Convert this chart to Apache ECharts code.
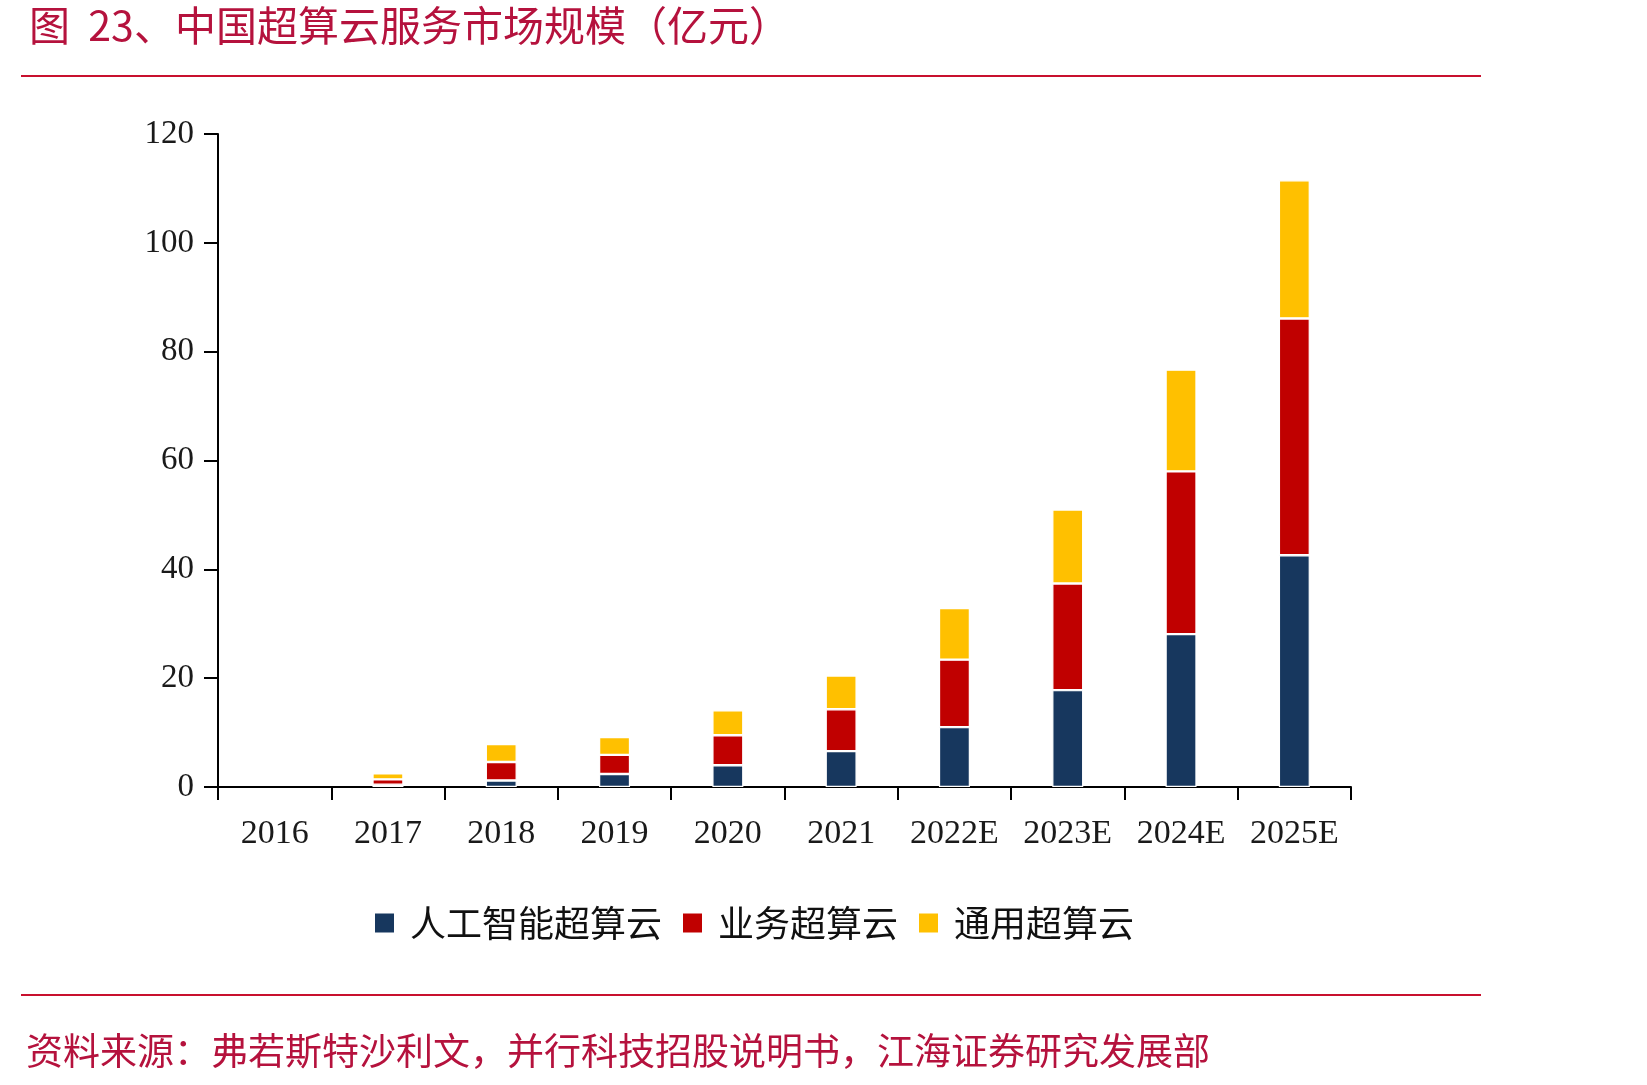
<!DOCTYPE html>
<html>
<head>
<meta charset="utf-8">
<script src="https://cdn.jsdelivr.net/npm/echarts@6/dist/echarts.min.js"></script>
<style>
html, body { margin: 0; padding: 0; background: #fff; }
#main { width: 1647px; height: 1085px; }
</style>
</head>
<body>
<div id="main"></div>
<script>
var years = ['2016', '2017', '2018', '2019', '2020', '2021', '2022E', '2023E', '2024E', '2025E'];
// 人工智能超算云
var aiCloud = [0, 0.4, 1.2, 2.4, 4.0, 6.6, 11.0, 17.8, 28.1, 42.6];
// 业务超算云
var bizCloud = [0, 1.0, 3.4, 3.5, 5.5, 7.7, 12.4, 19.6, 29.9, 43.5];
// 通用超算云
var genCloud = [0, 1.1, 3.3, 3.3, 4.6, 6.2, 9.5, 13.6, 18.7, 25.4];
var seriesNames = ['人工智能超算云', '业务超算云', '通用超算云'];
var seriesColors = ['#17375E', '#C00000', '#FFC000'];

var cjk = "'Noto Sans CJK SC', sans-serif";
var serif = "'Liberation Serif', 'DejaVu Serif', serif";
var redText = '#B5123D';
var redLine = '#C8102E';

var chart = echarts.init(document.getElementById('main'));

function makeSeries(i, data) {
    return {
        name: seriesNames[i],
        type: 'bar',
        stack: 'total',
        barWidth: 31,
        // 0 值不画（避免白色边框残影）
        data: data.map(function (v) { return v === 0 ? '-' : v; }),
        itemStyle: {
            color: seriesColors[i],
            borderColor: '#fff',
            borderWidth: 1.2
        }
    };
}

chart.setOption({
    animation: false,
    backgroundColor: '#fff',
    title: {
        text: '图  23、中国超算云服务市场规模（亿元）',
        left: 24,
        top: 0,
        textStyle: {
            color: redText,
            fontFamily: cjk,
            fontWeight: 'normal',
            fontSize: 41
        }
    },
    graphic: [
        {
            type: 'line',
            shape: { x1: 21, y1: 76, x2: 1481, y2: 76 },
            style: { stroke: redLine, lineWidth: 2 }
        },
        {
            type: 'line',
            shape: { x1: 21, y1: 995, x2: 1481, y2: 995 },
            style: { stroke: redLine, lineWidth: 2 }
        },
        {
            type: 'text',
            left: 26,
            top: 1032,
            style: {
                text: '资料来源：弗若斯特沙利文，并行科技招股说明书，江海证券研究发展部',
                fill: redText,
                font: '37px ' + cjk
            }
        }
    ],
    legend: {
        left: 368,
        top: 900,
        itemWidth: 21,
        itemHeight: 21,
        itemGap: 19,
        icon: 'rect',
        data: seriesNames,
        textStyle: {
            color: '#111',
            fontFamily: cjk,
            fontSize: 36,
            padding: [0, 0, 0, 10]
        }
    },
    grid: {
        left: 218,
        right: 296,
        top: 134,
        bottom: 298
    },
    xAxis: {
        type: 'category',
        data: years,
        boundaryGap: true,
        axisLine: { lineStyle: { color: '#000', width: 2 } },
        axisTick: { show: true, interval: 0, length: 13, lineStyle: { color: '#000', width: 2 } },
        axisLabel: {
            interval: 0,
            color: '#1a1a1a',
            fontFamily: serif,
            fontSize: 34,
            margin: 30
        }
    },
    yAxis: {
        type: 'value',
        min: 0,
        max: 120,
        interval: 20,
        axisLine: { show: true, lineStyle: { color: '#000', width: 2 } },
        axisTick: { show: true, length: 14, lineStyle: { color: '#000', width: 2 } },
        splitLine: { show: false },
        axisLabel: {
            color: '#1a1a1a',
            fontFamily: serif,
            fontSize: 33,
            margin: 24
        }
    },
    series: [
        makeSeries(0, aiCloud),
        makeSeries(1, bizCloud),
        makeSeries(2, genCloud)
    ]
});
</script>
</body>
</html>
